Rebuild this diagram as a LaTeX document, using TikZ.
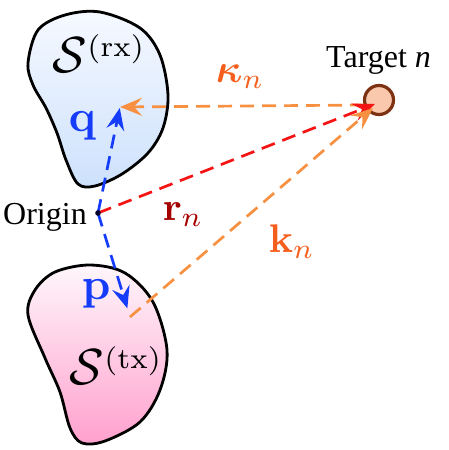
\documentclass[tikz,border=0pt]{standalone}
\usepackage{bm}
\usepackage[no-math]{fontspec}
\newfontfamily\timesf{Liberation Serif}
\usetikzlibrary{arrows.meta}
\definecolor{lorange}{RGB}{247,145,65}
\definecolor{dorange}{RGB}{245,95,30}
\definecolor{myred}{RGB}{245,20,20}
\definecolor{dred}{RGB}{165,0,0}
\definecolor{myblue}{RGB}{20,60,250}
\definecolor{tfill}{RGB}{250,200,172}
\definecolor{tdraw}{RGB}{125,50,20}
\definecolor{rxtop}{RGB}{246,249,255}
\definecolor{rxbot}{RGB}{205,225,252}
\definecolor{txtop}{RGB}{255,246,251}
\definecolor{txbot}{RGB}{255,160,205}
\newcommand{\bigS}{\scalebox{1.22}{$\mathcal{S}$}}
\tikzset{
  blob/.style={draw=black, line width=2.8pt},
  vec/.style={line width=2.7pt, dash pattern=on 14pt off 8pt,
    -{Stealth[length=22pt,width=18pt,inset=8pt]}},
  mlab/.style={anchor=base west, inner sep=0pt, scale=4, font=\fontsize{10}{12}\selectfont},
  tlab/.style={anchor=base west, inner sep=0pt, font=\fontsize{32}{38}\selectfont\timesf},
}
\begin{document}
\begin{tikzpicture}[x=1pt,y=-1pt]
\useasboundingbox (0,0) rectangle (448,450);
% blobs
\path[blob, top color=rxtop, bottom color=rxbot]
  plot[smooth cycle, tension=0.55] coordinates {(28,63) (38,30) (65,15) (100,12) (140,28) (160,55) (168,95) (163,128) (148,153) (122,174) (95,186) (78,184) (66,160) (57,133) (46,108) (33,85)};
\path[blob, top color=txtop, bottom color=txbot]
  plot[smooth cycle, tension=0.55] coordinates {(28,315) (35,290) (55,272) (90,265) (125,273) (153,302) (167,350) (160,390) (140,422) (105,441) (82,443) (70,428) (60,392) (45,358)};
% points
\coordinate (O) at (98,213);
\coordinate (Q) at (120,107);
\coordinate (P) at (130,317);
\coordinate (Tk) at (364,105);
\coordinate (Tr) at (375,104);
\coordinate (Tq) at (373,108);
\node[circle, draw=tdraw, fill=tfill, line width=3.2pt, minimum size=29pt, inner sep=0pt] (T) at (379,100) {};
% vectors
\draw[vec, lorange] (Tk) -- (Q);
\draw[vec, myblue, shorten >=1pt] (O) -- (Q);
\draw[vec, myblue, shorten >=9pt] (O) -- (P);
\draw[vec, myred] (O) -- (Tr);
\draw[vec, lorange] (P) -- (Tq);
\fill[black!60!blue!40!black] (O) circle (2.8pt);
% labels
\node[mlab, scale=1.04] (Srx) at (52,72) {$\bigS{}^{(\mathrm{rx})}$};
\node[mlab, scale=1.04] (Stx) at (69,384) {$\bigS{}^{(\mathrm{tx})}$};
\node[mlab, myblue, scale=1.12] (ql) at (68,131) {$\mathbf{q}$};
\node[mlab, myblue, scale=1.12] (pl) at (81,299) {$\mathbf{p}$};
\node[mlab, dorange] (kap) at (215,82) {$\bm{\kappa}_n$};
\node[mlab, dred] (rl) at (162,220) {$\mathbf{r}_n$};
\node[mlab, dorange] (kl) at (268,252) {$\mathbf{k}_n$};
\node[tlab] (tl) at (326,67) {Target \textit{n}};
\node[tlab] (ol) at (3,224) {Origin};
\end{tikzpicture}
\end{document}
